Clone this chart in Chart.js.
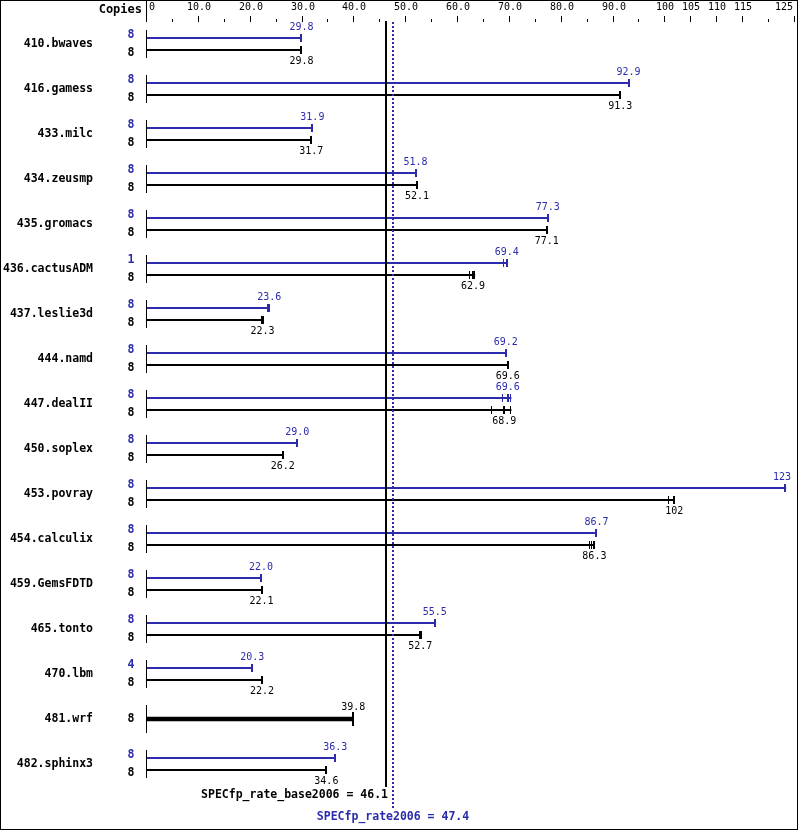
<!DOCTYPE html>
<html>
<head>
<meta charset="utf-8">
<script src="https://cdn.jsdelivr.net/npm/chart.js@4/dist/chart.umd.min.js"></script>
<style>
body{margin:0;background:#fff;}
#chart{display:block;}
</style>
</head>
<body>
<canvas id="chart" width="799" height="831"></canvas>
<script>
/* DATA */
const benchmarks = ["410.bwaves","416.gamess","433.milc","434.zeusmp","435.gromacs","436.cactusADM",
  "437.leslie3d","444.namd","447.dealII","450.soplex","453.povray","454.calculix","459.GemsFDTD",
  "465.tonto","470.lbm","481.wrf","482.sphinx3"];
const peakCopies = [8,8,8,8,8,1,8,8,8,8,8,8,8,8,4,null,8];
const baseCopies = [8,8,8,8,8,8,8,8,8,8,8,8,8,8,8,8,8];
const peakValues = [29.8,92.9,31.9,51.8,77.3,69.4,23.6,69.2,69.6,29.0,123,86.7,22.0,55.5,20.3,null,36.3];
const baseValues = [29.8,91.3,31.7,52.1,77.1,62.9,22.3,69.6,68.9,26.2,101.7,86.3,22.1,52.7,22.2,null,34.6];
// 481.wrf: base and peak are the same, drawn as one bar
const sameValues = [null,null,null,null,null,null,null,null,null,null,null,null,null,null,null,39.8,null];
// extra run ticks (other runs besides the median)
const peakRuns = [[],[],[],[],[],[68.9],[23.4,23.7],[],[68.7,70.3],[],[123.3],[],[],[],[],[],[]];
const baseRuns = [[],[],[],[],[],[62.3,63.3],[22.1,22.5],[],[66.5,70.3],[],[100.7],[85.4,85.8],[],[53.0],[],[],[]];
const tickValues = [0,5,10,15,20,25,30,35,40,45,50,55,60,65,70,75,80,85,90,95,100,105,110,115,120,125];
const tickLabels = {0:"0",10:"10.0",20:"20.0",30:"30.0",40:"40.0",50:"50.0",60:"60.0",70:"70.0",
  80:"80.0",90:"90.0",100:"100",105:"105",110:"110",115:"115",125:"125"};
const baseScore = 46.1;
const peakScore = 47.4;

const BLUE = "#2b2bab";
const BLACK = "#000";
const FONT = '"DejaVu Sans Mono", "Liberation Mono", monospace';
const boldFont = "bold 11.5px " + FONT;
const smallFont = "10px " + FONT;

const specDecor = {
  id: "specDecor",
  afterDraw(chart){
    const ctx = chart.ctx;
    const xs = chart.scales.x, ys = chart.scales.y;
    const x0 = Math.round(xs.getPixelForValue(0));
    ctx.save();

    // frame
    ctx.strokeStyle = BLACK; ctx.lineWidth = 1;
    ctx.strokeRect(0.5, 0.5, 797, 829);

    // top axis
    ctx.fillStyle = BLACK;
    ctx.fillRect(x0-1, 0, 1, 22);
    ctx.font = smallFont; ctx.textBaseline = "middle";
    xs.ticks.forEach(t=>{
      const px = Math.round(xs.getPixelForValue(t.value));
      const lab = tickLabels[t.value];
      if(lab !== undefined){
        if(t.value > 0) ctx.fillRect(px-1, 16, 1, 6);
        if(t.value === 0){ctx.textAlign = "left"; ctx.fillText(lab, px+2, 7);}
        else if(t.value === 125){ctx.textAlign = "right"; ctx.fillText(lab, px-2, 7);}
        else {ctx.textAlign = "center"; ctx.fillText(lab, px, 7);}
      } else {
        ctx.fillRect(px-1, 19, 1, 3);
      }
    });
    ctx.font = "bold 12px " + FONT; ctx.textAlign = "right";
    ctx.fillText("Copies", 142, 10);

    // bars decoration
    const endTick = (v, yc, color, h) => {
      ctx.fillStyle = color;
      const px = Math.round(xs.getPixelForValue(v));
      ctx.fillRect(px-1, yc-h, 2, 2*h);
    };
    const runTicks = (v, runs, yc, color) => {
      ctx.fillStyle = color;
      const vx = xs.getPixelForValue(v);
      const mx = Math.max(v, ...runs);
      if(mx > v){
        const ex = xs.getPixelForValue(mx);
        ctx.fillRect(vx, yc-1, ex-vx, 2);
      }
      runs.forEach(r=>{
        const px = Math.round(xs.getPixelForValue(r));
        ctx.fillRect(px-1, yc-4, 1, 8);
      });
    };
    const valueLabel = (v, yc, color) => {
      ctx.font = smallFont; ctx.fillStyle = color; ctx.textBaseline = "middle";
      const s = v.toPrecision(3);
      const px = xs.getPixelForValue(v);
      const w = ctx.measureText(s).width;
      if(px + w/2 > 791){ctx.textAlign = "right"; ctx.fillText(s, 791, yc);}
      else {ctx.textAlign = "center"; ctx.fillText(s, px, yc);}
    };
    const copiesLabel = (c, yc, color) => {
      ctx.font = boldFont; ctx.fillStyle = color; ctx.textAlign = "center"; ctx.textBaseline = "middle";
      ctx.fillText(String(c), 131, yc);
    };

    benchmarks.forEach((b, i)=>{
      const yc = ys.getPixelForValue(i);
      // benchmark name
      ctx.font = boldFont; ctx.fillStyle = BLACK; ctx.textAlign = "right"; ctx.textBaseline = "middle";
      ctx.fillText(ys.getLabelForValue(i), 93, yc);
      ctx.fillRect(x0-1, yc-14, 1, 28);
      if(sameValues[i] !== null){
        endTick(sameValues[i], yc, BLACK, 7);
        valueLabel(sameValues[i], yc-12, BLACK);
        copiesLabel(baseCopies[i], yc, BLACK);
        return;
      }
      const yp = yc-6, yb = yc+6;
      runTicks(peakValues[i], peakRuns[i], yp, BLUE);
      runTicks(baseValues[i], baseRuns[i], yb, BLACK);
      endTick(peakValues[i], yp, BLUE, 4);
      endTick(baseValues[i], yb, BLACK, 4);
      valueLabel(peakValues[i], yc-17, BLUE);
      valueLabel(baseValues[i], yc+17.5, BLACK);
      copiesLabel(peakCopies[i], yc-9, BLUE);
      copiesLabel(baseCopies[i], yc+9, BLACK);
    });

    // score lines
    const bx = Math.round(xs.getPixelForValue(baseScore));
    ctx.fillStyle = BLACK;
    ctx.fillRect(bx-1, 21, 2, 766);
    const px = Math.round(xs.getPixelForValue(peakScore));
    ctx.fillStyle = BLUE;
    for(let yy=22; yy<808; yy+=4) ctx.fillRect(px-1, yy, 2, 2);

    ctx.font = boldFont; ctx.textBaseline = "middle";
    ctx.fillStyle = BLACK; ctx.textAlign = "right";
    ctx.fillText("SPECfp_rate_base2006 = " + baseScore.toFixed(1), bx+2, 795);
    ctx.fillStyle = BLUE; ctx.textAlign = "center";
    ctx.fillText("SPECfp_rate2006 = " + peakScore.toFixed(1), px, 817);
    ctx.restore();
  }
};

new Chart(document.getElementById("chart"), {
  type: "bar",
  data: {
    labels: benchmarks,
    datasets: [
      {label:"Peak", data:peakValues, backgroundColor:BLUE, borderWidth:0,
        categoryPercentage:24/45, barPercentage:1/6},
      {label:"Base", data:baseValues, backgroundColor:BLACK, borderWidth:0,
        categoryPercentage:24/45, barPercentage:1/6},
      {label:"Same", data:sameValues, backgroundColor:BLACK, borderWidth:0,
        grouped:false, categoryPercentage:1, barPercentage:1, maxBarThickness:4}
    ]
  },
  options: {
    indexAxis: "y",
    responsive: false,
    animation: false,
    layout: {padding:{left:0, right:4, top:0, bottom:44.5}},
    plugins: {legend:{display:false}, tooltip:{enabled:false}},
    scales: {
      x: {
        type: "linear", position: "top", min: 0, max: 125,
        grid: {display:false}, border: {display:false},
        ticks: {display:false},
        afterBuildTicks: s => { s.ticks = tickValues.map(v=>({value:v})); },
        afterFit: s => { s.height = 21.5; }
      },
      y: {
        grid: {display:false}, border: {display:false},
        ticks: {display:false},
        afterFit: s => { s.width = 147; }
      }
    }
  },
  plugins: [specDecor]
});
</script>
</body>
</html>
